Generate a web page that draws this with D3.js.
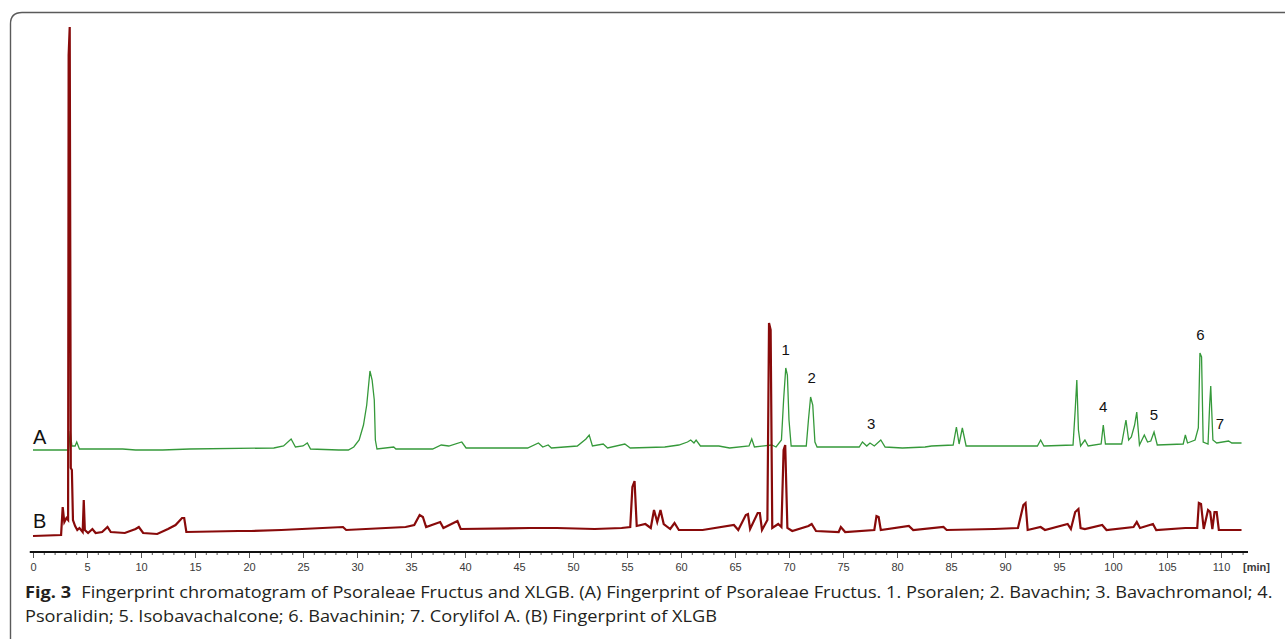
<!DOCTYPE html>
<html>
<head>
    <meta charset="utf-8">
    <script src="https://d3js.org/d3.v7.min.js"></script>
    <style>
        body { margin: 0; background-color: white; }
        svg { display: block; }
    </style>
</head>
<body>
<div id="chrom"></div>

<script>
    // trace A (Psoraleae Fructus): [time (min), response]
    var traceA = [
        [0,0],[3.3,0],[3.45,19],[3.6,4],[3.9,4],[4.05,8],[4.3,1],[8.3,1],[9.5,0],[12,0],[14.5,1],
        [22.3,2],[23.2,4],[23.9,11],[24.3,3],[25,4],[25.4,7],[25.7,1],[28.3,0],[29.2,0],[29.7,3],
        [30.2,10],[30.6,25],[30.9,45],[31.2,79],[31.4,70],[31.6,50],[31.7,10],[31.85,1],[33.4,3],
        [33.6,1],[37,1],[37.8,5],[38.5,4],[39.7,8],[40.1,2],[45.8,2],[46.8,7],[47.2,3],[47.7,5],
        [48,2],[50.4,4],[51.2,11],[51.5,15],[51.8,4],[52.8,6],[53.2,2],[54.8,6],[55.3,2],[58.5,3],
        [59.8,5],[60.6,8],[60.9,10],[61.2,7],[61.4,10],[61.8,4],[63.5,4],[64.5,2],[66.3,4],
        [66.55,11],[66.8,3],[68.4,5],[68.8,3],[69.3,10],[69.5,50],[69.7,82],[69.85,75],[70,30],
        [70.2,4],[71.6,4],[71.8,30],[72,53],[72.2,45],[72.4,8],[72.6,3],[74.5,3],[76.5,3],[76.8,8],
        [77.2,4],[77.5,7],[77.9,4],[78.5,10],[78.9,3],[80.5,2],[82.6,3],[83.2,4],[85.2,5],[85.5,23],
        [85.75,6],[86.05,22],[86.4,4],[88.5,4],[89.3,4],[93,4],[93.3,10],[93.6,4],[96.3,5],[96.5,40],
        [96.65,70],[96.8,20],[97,4],[97.4,10],[97.7,4],[98.9,6],[99.1,25],[99.3,6],[100.8,6],
        [101.2,30],[101.45,10],[101.7,13],[102,25],[102.2,38],[102.45,5],[102.9,15],[103.2,8],
        [103.5,9],[103.8,18],[104.1,5],[106.5,6],[106.7,15],[106.9,7],[107.6,10],[107.9,22],
        [108.05,97],[108.2,93],[108.35,8],[108.8,6],[108.95,45],[109.05,64],[109.25,10],[109.6,7],
        [110.7,9],[111,7],[111.9,7]
    ];

    // trace B (XLGB)
    var traceB = [
        [0,4],[2.6,5],[2.75,33],[2.9,18],[3.1,22],[3.25,20],[3.3,485],[3.4,513],[3.5,72],[3.6,70],
        [3.7,20],[3.9,14],[4.1,10],[4.3,12],[4.6,8],[4.7,40],[4.8,10],[5.1,7],[5.5,11],[5.8,7],
        [6.4,8],[6.9,13],[7.2,8],[8.5,7],[9.5,11],[9.8,13],[10.2,7],[11.5,6],[12.5,11],[13.2,15],
        [13.8,22],[14,22],[14.2,8],[19,9],[20.2,9],[23,10],[28.7,13],[29,10],[34.5,13],[35.3,15],
        [35.8,25],[36.1,23],[36.4,13],[37.7,18],[38,12],[39.3,19],[39.6,11],[46,12],[48.5,12],
        [52,11],[54.5,12],[55.3,13],[55.5,53],[55.7,59],[55.9,14],[56.7,16],[57.2,12],[57.5,30],
        [57.8,18],[58.1,30],[58.4,16],[59,11],[59.4,17],[59.8,10],[62,10],[64.9,15],[65.3,10],
        [66,25],[66.2,26],[66.4,11],[67.1,27],[67.3,27],[67.5,10],[68,20],[68.15,217],[68.3,210],
        [68.45,12],[69,16],[69.3,13],[69.5,90],[69.65,95],[69.85,12],[70.3,9],[71.8,14],[72.1,16],
        [72.5,9],[74.6,8],[74.8,13],[75.2,8],[77.9,10],[78.1,24],[78.3,23],[78.5,10],[81.1,14],
        [81.5,10],[84.3,13],[84.6,10],[89,11],[91.2,12],[91.7,35],[91.9,37],[92.1,10],[93.3,13],
        [93.7,10],[95.8,16],[96.1,11],[96.5,28],[96.8,31],[97,12],[97.4,11],[99,15],[99.4,10],
        [101.9,13],[102.2,18],[102.5,12],[103.7,16],[104,10],[106.7,12],[107.8,12],[107.95,37],
        [108.15,36],[108.4,11],[108.8,30],[109,28],[109.2,11],[109.4,28],[109.6,28],[109.8,10],
        [111.9,10]
    ];

    var traceNames = ["A", "B"];
    var traceOffsets = [90, 0];
    var nameLevels = [6, 12];
    var traceColors = ["#35993a", "#880a0a"];

    // numbered peaks on trace A
    var peakNumbers = ["1", "2", "3", "4", "5", "6", "7"];
    var peakTimes = [69.7, 72.1, 77.6, 99.1, 103.8, 108.1, 109.9];
    var peakLabelLevels = [95, 67, 21, 38, 30, 110, 21];

    var majorTicks = d3.range(0, 111, 5);
    var minorTicks = d3.range(0, 113, 1);

    var captionBold = "Fig. 3";
    var captionLines = [
        "Fingerprint chromatogram of Psoraleae Fructus and XLGB. (A) Fingerprint of Psoraleae Fructus. 1. Psoralen; 2. Bavachin; 3. Bavachromanol; 4.",
        "Psoralidin; 5. Isobavachalcone; 6. Bavachinin; 7. Corylifol A. (B) Fingerprint of XLGB"
    ];

    var W = 1285, H = 639;
    var svg = d3.select("#chrom").append("svg")
        .attr("width", W)
        .attr("height", H);

    // frame (only top-left part visible)
    svg.append("path")
        .attr("d", "M10.5," + H + " L10.5,24 Q10.5,12.5 22,12.5 L" + W + ",12.5")
        .attr("fill", "none")
        .attr("stroke", "#5a5a5a")
        .attr("stroke-width", 1.4);

    var x = d3.scaleLinear().domain([0, 110]).range([33, 1221]);
    var y = d3.scaleLinear().domain([0, 520]).range([540, 20]);

    // traces
    var line = d3.line()
        .x(function(d) { return x(d[0]); })
        .y(function(d) { return y(d[1]); });

    [traceA, traceB].forEach(function(tr, i) {
        var off = traceOffsets[i];
        svg.append("path")
            .datum(tr.map(function(d) { return [d[0], d[1] + off]; }))
            .attr("d", line)
            .attr("fill", "none")
            .attr("stroke", traceColors[i])
            .attr("stroke-width", i == 0 ? 1.3 : 2.2);

        svg.append("text")
            .attr("x", 33)
            .attr("y", y(off + nameLevels[i]))
            .style("font-family", "Liberation Sans, Arial, sans-serif")
            .style("font-size", "20px")
            .attr("fill", "#111")
            .text(traceNames[i]);
    });

    // peak numbers
    svg.selectAll(".peaknum")
        .data(peakNumbers)
        .enter()
        .append("text")
        .attr("class", "peaknum")
        .attr("x", function(d, i) { return x(peakTimes[i]); })
        .attr("y", function(d, i) { return y(peakLabelLevels[i] + traceOffsets[0]); })
        .attr("text-anchor", "middle")
        .style("font-family", "Liberation Sans, Arial, sans-serif")
        .style("font-size", "15px")
        .attr("fill", "#111")
        .text(function(d) { return d; });

    // time axis
    var axisY = 552;
    var gx = svg.append("g").attr("transform", "translate(0," + axisY + ")");
    gx.call(d3.axisBottom(x).tickValues(minorTicks).tickSize(3).tickSizeOuter(0).tickFormat(""));
    var gx2 = svg.append("g").attr("transform", "translate(0," + axisY + ")");
    gx2.call(d3.axisBottom(x).tickValues(majorTicks).tickSize(6).tickSizeOuter(0).tickPadding(5));
    svg.selectAll(".domain").remove();
    svg.selectAll(".tick line").attr("stroke", "#555");
    gx2.selectAll("text")
        .style("font-family", "Liberation Sans, Arial, sans-serif")
        .style("font-size", "11px")
        .attr("fill", "#3a3a3a");

    svg.append("line")
        .attr("x1", x(-0.3)).attr("x2", x(112.5))
        .attr("y1", axisY).attr("y2", axisY)
        .attr("stroke", "#111")
        .attr("stroke-width", 2);

    svg.append("text")
        .attr("x", 1243)
        .attr("y", 571)
        .style("font-family", "Liberation Sans, Arial, sans-serif")
        .style("font-size", "11px")
        .style("font-weight", "bold")
        .attr("fill", "#3a3a3a")
        .text("[min]");

    // caption
    var cap = svg.append("g")
        .style("font-family", "Open Sans, Noto Sans, sans-serif")
        .style("font-size", "16px")
        .attr("fill", "#231f20");
    var t1 = cap.append("text").attr("x", 0).attr("y", 598);
    t1.append("tspan").style("font-weight", "bold").text(captionBold);
    t1.append("tspan").attr("dx", 9).text(captionLines[0]);
    cap.append("text").attr("x", 0).attr("y", 622).text(captionLines[1]);

    // squeeze the caption to the width it takes in the figure
    var w1 = t1.node().getComputedTextLength();
    cap.attr("transform", "translate(25,0) scale(" + (1238 / w1) + ",1)");
</script>
</body>
</html>
